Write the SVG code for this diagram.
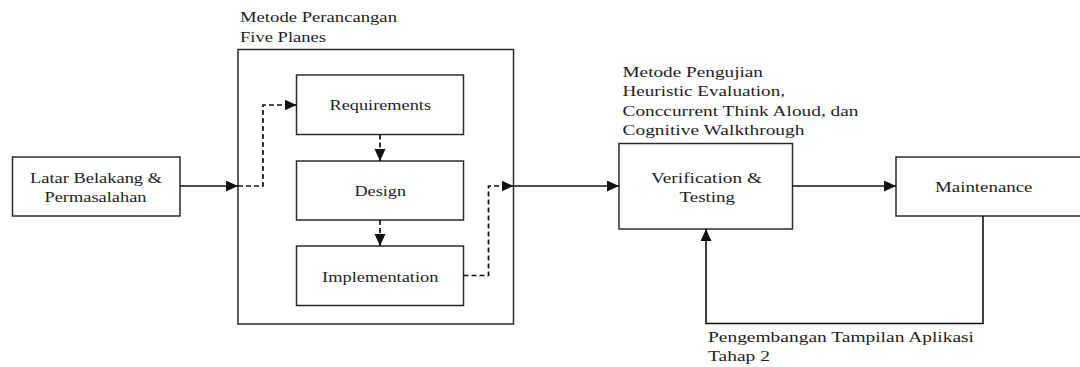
<svg xmlns="http://www.w3.org/2000/svg" width="1080" height="367" viewBox="0 0 1080 367">
  <style>
    .box { fill: #ffffff; stroke: #2b2b2b; stroke-width: 1.5; }
    .frame { fill: none; stroke: #2b2b2b; stroke-width: 1.5; }
    .lbl { font-family: "Liberation Serif", "Times New Roman", serif; font-size: 14.5px; fill: #1e1e1e; }
    .solid { fill: none; stroke: #111111; stroke-width: 1.6; }
    .dash { fill: none; stroke: #111111; stroke-width: 1.7; stroke-dasharray: 5 3; }
  </style>
  <defs>
    <marker id="arrow" markerUnits="userSpaceOnUse" markerWidth="13" markerHeight="12" refX="12" refY="5.5" orient="auto">
      <path d="M0,0 L12,5.5 L0,11 Z" fill="#111111"/>
    </marker>
  </defs>

  <rect width="1080" height="367" fill="#ffffff"/>

  <!-- design phase container -->
  <g id="five-planes">
    <rect class="frame" x="238" y="49.5" width="275.5" height="274.5"/>
    <text class="lbl" x="240" y="22" textLength="157" lengthAdjust="spacingAndGlyphs">Metode Perancangan</text>
    <text class="lbl" x="240" y="41.5" textLength="86" lengthAdjust="spacingAndGlyphs">Five Planes</text>
  </g>

  <g id="latar-belakang">
    <rect class="box" x="12.5" y="157" width="167.5" height="59"/>
    <text class="lbl" x="30" y="182.5" textLength="132" lengthAdjust="spacingAndGlyphs">Latar Belakang &amp;</text>
    <text class="lbl" x="44.5" y="201.5" textLength="102" lengthAdjust="spacingAndGlyphs">Permasalahan</text>
  </g>

  <g id="requirements">
    <rect class="box" x="296.5" y="75" width="167" height="59.5"/>
    <text class="lbl" x="329.5" y="110" textLength="101.5" lengthAdjust="spacingAndGlyphs">Requirements</text>
  </g>

  <g id="design">
    <rect class="box" x="296.5" y="161" width="167" height="59"/>
    <text class="lbl" x="354.5" y="196" textLength="51.5" lengthAdjust="spacingAndGlyphs">Design</text>
  </g>

  <g id="implementation">
    <rect class="box" x="296.5" y="246" width="167" height="59.5"/>
    <text class="lbl" x="322" y="281.5" textLength="116.5" lengthAdjust="spacingAndGlyphs">Implementation</text>
  </g>

  <g id="verification-testing">
    <text class="lbl" x="622.5" y="77" textLength="140.5" lengthAdjust="spacingAndGlyphs">Metode Pengujian</text>
    <text class="lbl" x="622.5" y="96" textLength="162.5" lengthAdjust="spacingAndGlyphs">Heuristic Evaluation,</text>
    <text class="lbl" x="622.5" y="115.5" textLength="236" lengthAdjust="spacingAndGlyphs">Conccurrent Think Aloud, dan</text>
    <text class="lbl" x="622.5" y="134.5" textLength="182" lengthAdjust="spacingAndGlyphs">Cognitive Walkthrough</text>
    <rect class="box" x="619" y="143.5" width="173.5" height="85.5"/>
    <text class="lbl" x="651" y="182.5" textLength="111" lengthAdjust="spacingAndGlyphs">Verification &amp;</text>
    <text class="lbl" x="679.5" y="201.5" textLength="55.5" lengthAdjust="spacingAndGlyphs">Testing</text>
  </g>

  <g id="maintenance">
    <rect class="box" x="896" y="157" width="190" height="59"/>
    <text class="lbl" x="935" y="191.5" textLength="97.5" lengthAdjust="spacingAndGlyphs">Maintenance</text>
  </g>

  <g id="connectors">
    <!-- into the design phase -->
    <line class="solid" x1="180" y1="186" x2="238" y2="186" marker-end="url(#arrow)"/>
    <polyline class="dash" points="238,186 263,186 263,105 296.5,105" marker-end="url(#arrow)"/>
    <line class="dash" x1="380" y1="134.5" x2="380" y2="161" marker-end="url(#arrow)"/>
    <line class="dash" x1="380" y1="220" x2="380" y2="246" marker-end="url(#arrow)"/>
    <polyline class="dash" points="463.5,275.5 488.5,275.5 488.5,186 513.5,186" marker-end="url(#arrow)"/>
    <!-- out of the design phase -->
    <line class="solid" x1="513.5" y1="186" x2="619" y2="186" marker-end="url(#arrow)"/>
    <line class="solid" x1="792.5" y1="186" x2="896" y2="186" marker-end="url(#arrow)"/>
    <!-- feedback loop -->
    <polyline class="solid" points="983,216 983,323.5 706,323.5 706,229" marker-end="url(#arrow)"/>
    <text class="lbl" x="708" y="342" textLength="266" lengthAdjust="spacingAndGlyphs">Pengembangan Tampilan Aplikasi</text>
    <text class="lbl" x="708" y="361" textLength="62" lengthAdjust="spacingAndGlyphs">Tahap 2</text>
  </g>
</svg>
